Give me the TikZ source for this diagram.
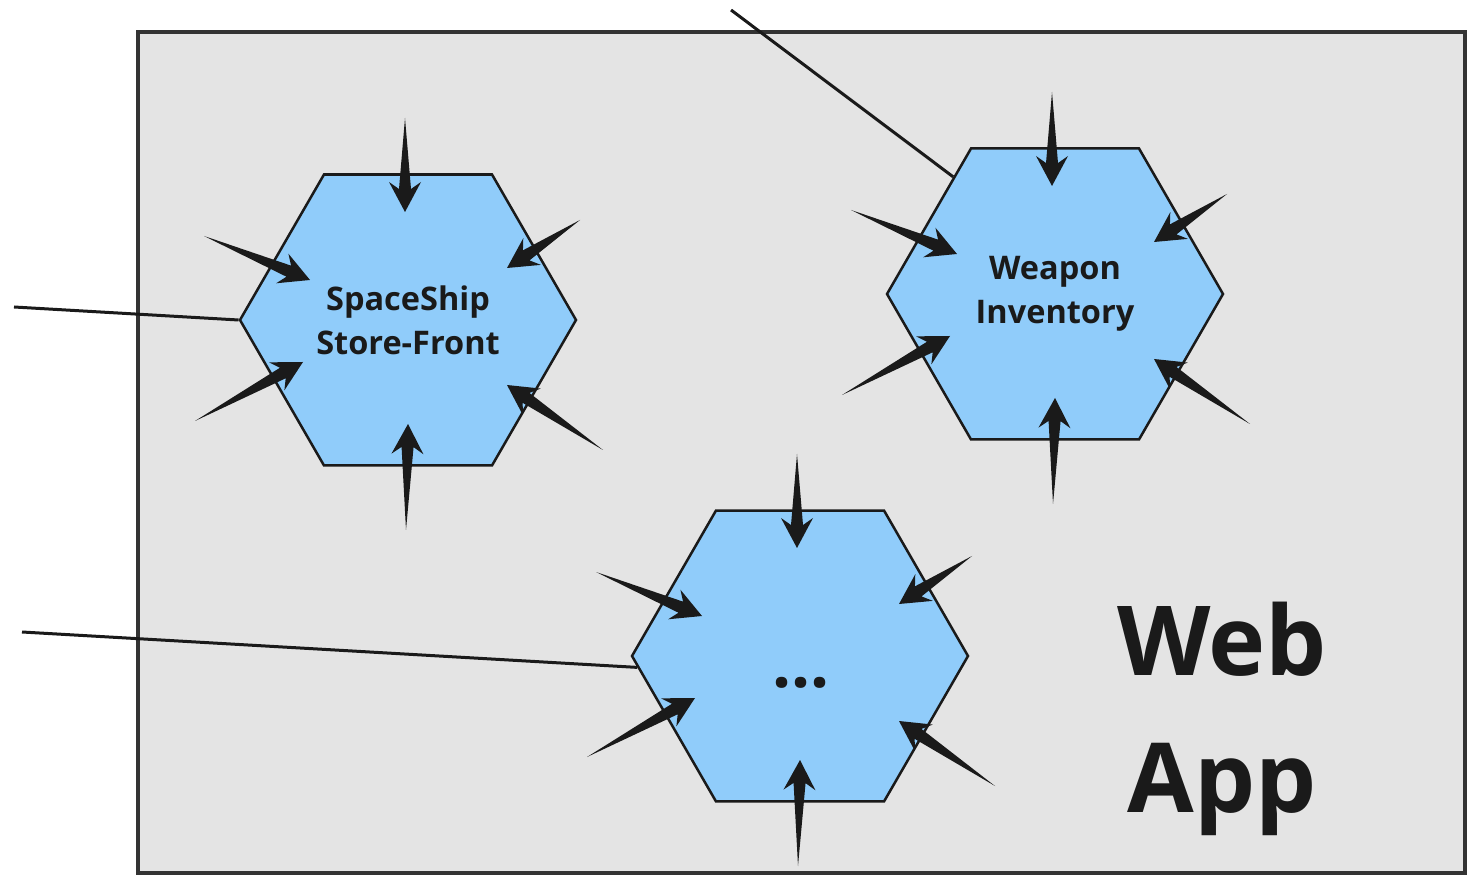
\documentclass[tikz,border=0pt]{standalone}
\usepackage{fontspec}
\setmainfont{Open Sans}
\usetikzlibrary{shapes.geometric,calc}

\definecolor{boxgray}{RGB}{228,228,228}
\definecolor{boxline}{RGB}{51,51,51}
\definecolor{hexblue}{RGB}{144,204,250}
\definecolor{ink}{RGB}{26,26,26}

\tikzset{
  hexa/.style={regular polygon, regular polygon sides=6, minimum size=6.72cm,
               inner sep=0pt, draw=ink, line width=0.05cm, fill=hexblue,
               font=\bfseries\fontsize{18.5}{25}\selectfont, text=ink, align=center},
  feed/.style={draw=ink, line width=0.06cm},
}

\newcommand\spike[2]{%
  \path ($(#2)!0.6cm!(#1)$) coordinate (sb) ($(#2)!0.46cm!(#1)$) coordinate (sn);
  \fill[ink] (#1) -- ($(sn)!0.12cm!90:(#1)$) -- ($(sb)!0.32cm!90:(#1)$) -- (#2)
             -- ($(sb)!0.32cm!-90:(#1)$) -- ($(sn)!0.12cm!-90:(#1)$) -- cycle;}

\begin{document}
\begin{tikzpicture}
        \useasboundingbox (0,0) rectangle (29.34,17.52);
        \filldraw[fill=boxgray, draw=boxline, line width=0.07cm] (2.76,0.06) rectangle (29.30,16.88);

        \node[hexa] (ship) at (8.16,11.12)  {SpaceShip\\Store-Front};
        \node[hexa] (weap) at (21.10,11.64) {Weapon\\Inventory};
        \node[hexa] (dots) at (16.00,4.40)  {};
        \node[font=\bfseries\fontsize{38}{38}\selectfont, text=ink] (more) at (16.02,3.86) {...};
        \node[font=\bfseries\fontsize{55}{78}\selectfont, text=ink, align=center] (web) at (24.44,3.15) {Web\\App};

        \foreach \hexname in {ship,weap,dots}{
          \foreach \ax/\ay/\bx/\by [count=\k] in {-0.06/4.04/-0.06/2.16, -4.08/1.68/-1.96/0.80,
                                                  3.44/2.00/1.98/1.04, -4.26/-2.02/-2.10/-0.84,
                                                  3.90/-2.60/1.98/-1.30, -0.04/-4.20/0.00/-2.08}{
            \coordinate (\hexname-tail-\k) at ($(\hexname.center)+(\ax,\ay)$);
            \coordinate (\hexname-tip-\k)  at ($(\hexname.center)+(\bx,\by)$);
            \spike{\hexname-tail-\k}{\hexname-tip-\k}
          }
        }

        \coordinate (shipfeed) at (0.28,11.38);
        \coordinate (dotsfeed) at (0.44,4.88);
        \coordinate (weapfeed) at (14.62,17.32);
        \draw[feed] (shipfeed) -- (ship.180);
        \draw[feed] (dotsfeed) -- (dots.184);
        \draw[feed] (weapfeed) -- (weap.131);
\end{tikzpicture}
\end{document}
